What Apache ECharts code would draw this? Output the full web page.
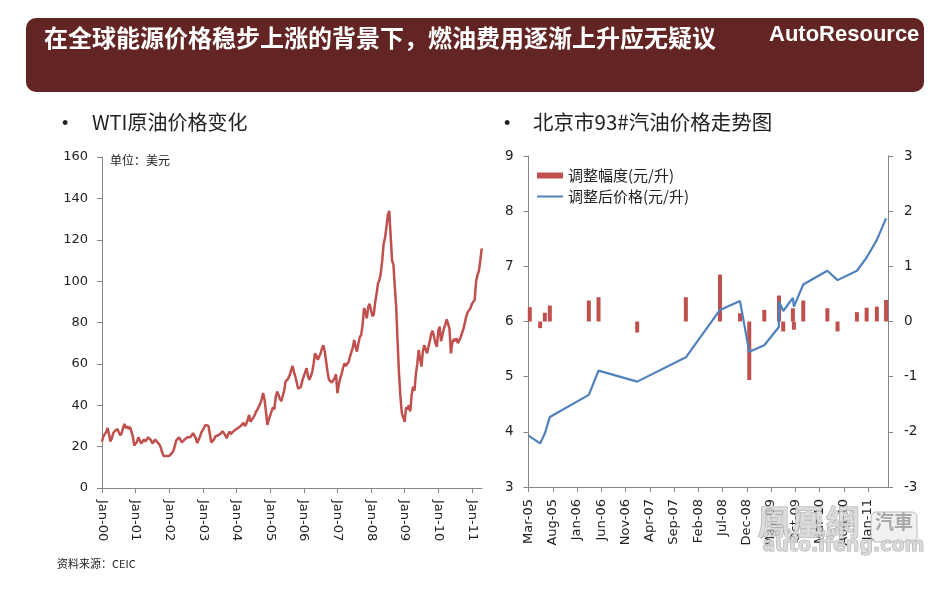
<!DOCTYPE html>
<html><head><meta charset="utf-8">
<script src="https://cdn.jsdelivr.net/npm/echarts@6/dist/echarts.min.js"></script>
<style>html,body{margin:0;padding:0;background:#fff}#c{width:949px;height:592px}</style>
</head><body><div id="c"></div>
<script>
// ---- WTI crude price, semi-monthly samples starting Jan 2000 (USD) ----
const wtiStartYear = 2000;
const wtiSamplesPerYear = 24;
const wtiValues = [
  // 2000
  22.5,25,25.5,27,29,26,22.5,24,26.5,27.5,28,28.5,27,25.5,26.5,29,31,29,30,28.5,29.5,30,25,20.5,
  // 2001
  21,22.5,24.5,23,21.5,22,23.5,22.5,23.5,24.5,24,23,21.5,22.5,23.5,22.5,23,21,19.5,17,15.5,15,15.5,15.3,
  // 2002
  15.5,16,17,18,20.5,23,23.5,24.5,24,22,21.5,23.5,24,24.5,25,24.5,25.5,26.5,26,24,21.7,22.5,25,27,
  // 2003
  28,29.5,30.5,31,30,26,22,21.7,23.5,25,25,25.5,26,26.5,27.5,27.7,25.5,24,26,27.3,26,27,27,28,
  // 2004
  28,29,28.5,30,30.5,31.5,30,31,33,35.3,32,31.5,34,35.3,37,38,37.5,41,43,45.9,42.6,37,30.5,33,
  // 2005
  35,37,39,38,44,46.6,45,43,42,41.8,47,51.4,52,53,54.6,57,59,56,53.8,51,48,47.4,49,52,
  // 2006
  54,56,57.9,54,52.3,54,56,60,65,64,62,62.5,65,67.5,69,66,61,56,52.3,51.5,51,50.7,53,55,
  // 2007
  45.8,50,53,55,58,60.3,59,58.7,61,63.5,64.3,68,71.5,68,65.9,70,73,74,79,87,85,82,87.6,89,
  // 2008
  86,83,84,90,94,99,100.5,104,110,118,121,126,132,134,122,110,108,97,87,70,55,44,36.2,34,
  // 2009
  32,39,38,40,37,45,49,47,55,60,66.7,67,58.7,66,69,67,65.1,68.3,71,74.7,76,73,70,68.3,
  // 2010
  76,78,71,74,77,79,81.5,81,77,65.1,70,72,71,72.3,70,69.1,73,75,77,80,83,85,86,87,
  // 2011
  89,88.4,91,100,103,105,110,115.8
];
const wtiTickLabels = ['Jan-00','Jan-01','Jan-02','Jan-03','Jan-04','Jan-05','Jan-06','Jan-07','Jan-08','Jan-09','Jan-10','Jan-11'];

// ---- Beijing 93# gasoline ----
const adjDates = ['2005-03-09','2005-05-13','2005-06-12','2005-07-13','2006-03-14','2006-05-14','2007-01-13','2007-11-14',
  '2008-06-15','2008-10-19','2008-12-16','2009-03-19','2009-06-20','2009-07-16','2009-09-16','2009-09-22','2009-11-20',
  '2010-04-19','2010-06-22','2010-10-22','2010-12-22','2011-02-25','2011-04-22'];
const adjValues = [0.26,-0.12,0.16,0.29,0.38,0.44,-0.20,0.44,
  0.85,0.15,-1.06,0.21,0.47,-0.18,0.24,-0.15,0.38,
  0.24,-0.18,0.17,0.25,0.27,0.39];
const priceDates = ['2005-03-01','2005-05-13','2005-06-12','2005-07-13','2006-03-14','2006-05-14','2007-01-13','2007-11-14',
  '2008-06-15','2008-10-19','2008-12-16','2009-03-19','2009-06-19','2009-06-20','2009-07-16','2009-09-16','2009-09-22',
  '2009-11-20','2010-04-19','2010-06-22','2010-10-22','2010-12-22','2011-02-25','2011-04-22'];
const priceValues = [3.93,3.79,3.97,4.27,4.67,5.11,4.91,5.35,
  6.21,6.37,5.45,5.57,5.90,6.36,6.19,6.43,6.27,
  6.67,6.92,6.75,6.92,7.16,7.48,7.87];
const gasTickLabels = ['Mar-05','Aug-05','Jan-06','Jun-06','Nov-06','Apr-07','Sep-07','Feb-08','Jul-08','Dec-08','May-09','Oct-09','Mar-10','Aug-10','Jan-11'];
const gasAxisEnd = '2011-05-04';

// months elapsed since the first tick (Mar 2005)
function monthsFrom(d){
  const [y,m,day] = d.split('-').map(Number);
  return (y-2005)*12 + (m-3) + (day-1)/30;
}

const wtiData = wtiValues.map((v,i)=>[i/wtiSamplesPerYear, v]);
const adjData = adjDates.map((d,i)=>[monthsFrom(d), adjValues[i]]);
const priceData = priceDates.map((d,i)=>[monthsFrom(d), priceValues[i]]);
const wtiTicks = wtiTickLabels.map((_,i)=>i);
const gasTicks = gasTickLabels.map((_,i)=>i*5);

const axisColor = '#868686';
const labelFont = {fontFamily:'DejaVu Sans', fontSize:12.5, color:'#222'};
const cjk = 'Noto Sans CJK SC';
const lineIcon = 'path://M0,0L0.01,0L0.01,0.01L0,0.01Z M0,2L26,2L26,4L0,4Z M25.99,5.99L26,5.99L26,6L25.99,6Z';

const chart = echarts.init(document.getElementById('c'), null, {renderer:'canvas'});
chart.setOption({
  animation:false,
  backgroundColor:'#fff',
  grid:[
    {left:102, top:157, right:467, bottom:104},
    {left:528.5, top:156, right:61, bottom:105}
  ],
  legend:{
    orient:'vertical', left:532, top:163, itemWidth:26, itemHeight:6, itemGap:6,
    selectedMode:false,
    textStyle:{fontFamily:cjk, fontSize:15, color:'#222'},
    data:[{name:'调整幅度(元/升)', icon:'rect'}, {name:'调整后价格(元/升)', icon:lineIcon}]
  },
  xAxis:[
    {type:'value', gridIndex:0, min:0, max:11.3, interval:1,
     axisLine:{onZero:false, lineStyle:{color:axisColor}},
     axisTick:{length:5, lineStyle:{color:axisColor}, customValues:wtiTicks},
     splitLine:{show:false},
     axisLabel:{rotate:-90, margin:12, fontSize:13, fontFamily:'DejaVu Sans', color:'#222',
       customValues:wtiTicks, formatter:v=>wtiTickLabels[Math.round(v)] || ''}},
    {type:'value', gridIndex:1, min:0, max:monthsFrom(gasAxisEnd), interval:5,
     axisLine:{onZero:false, lineStyle:{color:axisColor}},
     axisTick:{length:5, lineStyle:{color:axisColor}, customValues:gasTicks},
     splitLine:{show:false},
     axisLabel:{rotate:90, margin:12, fontSize:13, fontFamily:'DejaVu Sans', color:'#222',
       customValues:gasTicks, formatter:v=>gasTickLabels[Math.round(v/5)] || ''}}
  ],
  yAxis:[
    {type:'value', gridIndex:0, min:0, max:160, interval:20,
     axisLine:{show:true, onZero:false, lineStyle:{color:axisColor}}, axisTick:{show:true, length:5, lineStyle:{color:axisColor}},
     splitLine:{show:false}, axisLabel:Object.assign({margin:14}, labelFont, {fontSize:13})},
    {type:'value', gridIndex:1, min:3, max:9, interval:1, position:'left',
     axisLine:{show:true, onZero:false, lineStyle:{color:axisColor}}, axisTick:{show:true, length:5, lineStyle:{color:axisColor}},
     splitLine:{show:false}, axisLabel:Object.assign({margin:15}, labelFont, {fontSize:13.5})},
    {type:'value', gridIndex:1, min:-3, max:3, interval:1, position:'right',
     axisLine:{show:true, onZero:false, lineStyle:{color:axisColor}}, axisTick:{show:true, length:5, lineStyle:{color:axisColor}},
     splitLine:{show:false}, axisLabel:Object.assign({margin:16}, labelFont, {fontSize:13.5})}
  ],
  series:[
    {name:'WTI', type:'line', xAxisIndex:0, yAxisIndex:0, data:wtiData, showSymbol:false, symbol:'none',
     lineStyle:{color:'#C0504D', width:2.5}, itemStyle:{color:'#C0504D'}},
    {name:'调整幅度(元/升)', type:'bar', xAxisIndex:1, yAxisIndex:2, data:adjData, barWidth:4,
     itemStyle:{color:'#C0504D'}},
    {name:'调整后价格(元/升)', type:'line', xAxisIndex:1, yAxisIndex:1, data:priceData, symbol:'none', showSymbol:false,
     lineStyle:{color:'#4F81BD', width:2.2}, itemStyle:{color:'#4F81BD'}}
  ],
  graphic:[
    {type:'rect', shape:{x:26, y:18, width:898, height:74, r:10}, style:{fill:'#632523'}, z:-1},
    {type:'text', left:44, top:26, style:{text:'在全球能源价格稳步上涨的背景下，燃油费用逐渐上升应无疑议', fill:'#fff', font:'bold 24px "Noto Sans CJK SC"'}},
    {type:'text', left:769, top:24, style:{text:'AutoResource', fill:'#fff', font:'bold 22px "Liberation Sans"'}},
    {type:'text', left:62, top:115, style:{text:'•', fill:'#222', font:'18px "Liberation Sans"'}},
    {type:'text', left:92, top:112, style:{text:'WTI原油价格变化', fill:'#222', font:'20px "Noto Sans CJK SC"'}},
    {type:'text', left:504, top:115, style:{text:'•', fill:'#222', font:'18px "Liberation Sans"'}},
    {type:'text', left:533, top:112, style:{text:'北京市93#汽油价格走势图', fill:'#222', font:'20.5px "Noto Sans CJK SC"'}},
    {type:'text', left:110, top:154, style:{text:'单位：美元', fill:'#222', font:'12px "Noto Sans CJK SC"'}},
    {type:'text', left:57, top:558, style:{text:'资料来源：CEIC', fill:'#222', font:'11px "Noto Sans CJK SC"'}},
    // watermark
    {type:'text', left:757, top:505, z:100, style:{text:'鳳凰網', fill:'rgba(215,215,215,0.85)', stroke:'rgba(150,150,150,0.8)', lineWidth:1, font:'bold 34px "Noto Sans CJK TC"'}},
    {type:'rect', z:100, shape:{x:871, y:512, width:46, height:30, r:5}, style:{fill:'rgba(235,235,235,0.7)', stroke:'rgba(170,170,170,0.8)', lineWidth:1}},
    {type:'text', left:875, top:512, z:101, style:{text:'汽車', fill:'rgba(160,160,160,0.9)', font:'bold 19px "Noto Sans CJK TC"'}},
    {type:'text', left:762, top:536, z:100, style:{text:'auto.ifeng.com', fill:'rgba(215,215,215,0.9)', stroke:'rgba(150,150,150,0.8)', lineWidth:1, font:'bold 19px "DejaVu Sans"'}}
  ]
});
</script></body></html>
